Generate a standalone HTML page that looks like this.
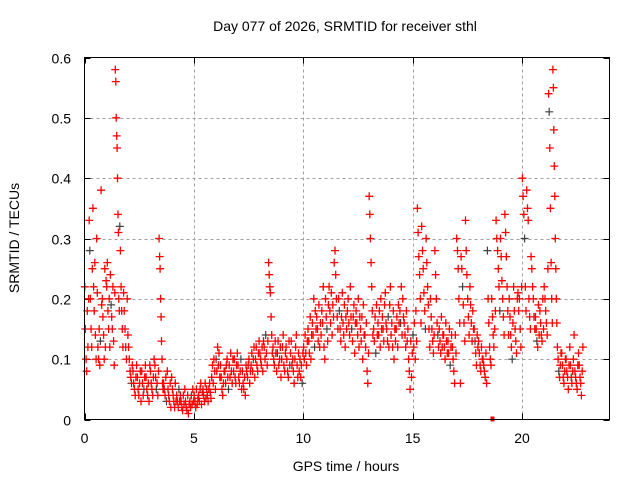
<!DOCTYPE html>
<html><head><meta charset="utf-8"><style>
body{margin:0;background:#fff}
svg{display:block;font-family:"Liberation Sans",sans-serif}
</style></head><body>
<svg id="chart" width="640" height="480">
<rect width="640" height="480" fill="#fff"/>
<text x="345" y="31" text-anchor="middle" font-size="14">Day 077 of 2026, SRMTID for receiver sthl</text>
<text x="346" y="471" text-anchor="middle" font-size="14">GPS time / hours</text>
<text x="0" y="0" transform="translate(19,238) rotate(-90)" text-anchor="middle" font-size="14">SRMTID / TECUs</text>
<g id="grid"></g><g id="ticks"></g><g id="marks"></g>
<rect x="84.5" y="57.5" width="525" height="362" fill="none" stroke="#000" stroke-width="1"/>
</svg>
<script>
const xTicks=[0,5,10,15,20];
const yTicks=[0,0.1,0.2,0.3,0.4,0.5,0.6];
const yTickLabels=["0","0.1","0.2","0.3","0.4","0.5","0.6"];
const binStarts=[0,0.2,0.4,0.6,0.8,1.0,1.2,1.4,1.6,1.8,2.0,2.2,2.4,2.6,2.8,3.0,3.2,3.4,3.6,3.8,4.0,4.2,4.4,4.6,4.8,5.0,5.2,5.4,5.6,5.8,6.0,6.2,6.4,6.6,6.8,7.0,7.2,7.4,7.6,7.8,8.0,8.2,8.4,8.6,8.8,9.0,9.2,9.4,9.6,9.8,10.0,10.2,10.4,10.6,10.8,11.0,11.2,11.4,11.6,11.8,12.0,12.2,12.4,12.6,12.8,13.0,13.2,13.4,13.6,13.8,14.0,14.2,14.4,14.6,14.8,15.0,15.2,15.4,15.6,15.8,16.0,16.2,16.4,16.6,16.8,17.0,17.2,17.4,17.6,17.8,18.0,18.2,18.4,18.6,18.8,19.0,19.2,19.4,19.6,19.8,20.0,20.2,20.4,20.6,20.8,21.0,21.2,21.4,21.6,21.8,22.0,22.2,22.4,22.6];
const binValues=[
[0.22,0.15,0.10,0.08,0.18,0.12,0.20],[0.33,0.28,0.20,0.15,0.12,0.25,0.35],[0.22,0.18,0.26,0.14,0.10,0.30,0.21],[0.12,0.10,0.15,0.09,0.13,0.38,0.19],
[0.20,0.17,0.14,0.10,0.25,0.12,0.23],[0.22,0.26,0.18,0.15,0.20,0.12,0.24],[0.19,0.17,0.15,0.22,0.13,0.09,0.21],[0.58,0.56,0.50,0.47,0.45,0.40,0.34,0.31,0.20,0.18],
[0.32,0.28,0.22,0.18,0.15,0.12,0.21],[0.18,0.15,0.12,0.10,0.20,0.14],[0.12,0.10,0.08,0.07,0.06,0.09],[0.08,0.06,0.05,0.04,0.07,0.09],
[0.07,0.05,0.04,0.06,0.08,0.03],[0.08,0.06,0.04,0.05,0.07,0.09],[0.07,0.05,0.04,0.06,0.03,0.09],[0.08,0.06,0.05,0.04,0.07,0.10],
[0.09,0.07,0.05,0.06,0.04,0.08],[0.30,0.27,0.25,0.20,0.17,0.13,0.10,0.06,0.05],[0.06,0.05,0.04,0.07,0.03,0.08],[0.05,0.04,0.03,0.06,0.02,0.07],
[0.05,0.04,0.03,0.02,0.06,0.03],[0.04,0.03,0.02,0.05,0.03,0.04],[0.03,0.02,0.015,0.04,0.025,0.05],[0.03,0.02,0.015,0.04,0.01,0.025],
[0.03,0.02,0.04,0.025,0.05,0.03],[0.04,0.03,0.02,0.05,0.025,0.035],[0.04,0.03,0.05,0.06,0.025,0.045],[0.05,0.04,0.03,0.06,0.035,0.05],
[0.04,0.03,0.05,0.06,0.045,0.035],[0.07,0.09,0.06,0.10,0.08,0.05],[0.10,0.08,0.12,0.09,0.11,0.07],[0.09,0.07,0.05,0.04,0.06,0.08],
[0.08,0.06,0.09,0.10,0.07,0.05],[0.09,0.07,0.11,0.08,0.06,0.10],[0.08,0.10,0.07,0.06,0.09,0.11],[0.09,0.07,0.06,0.08,0.10,0.05],
[0.08,0.06,0.05,0.07,0.04,0.09],[0.08,0.07,0.09,0.10,0.06,0.08],[0.09,0.11,0.08,0.10,0.12,0.07],[0.10,0.12,0.09,0.08,0.11,0.13],
[0.11,0.10,0.09,0.12,0.08,0.13],[0.12,0.10,0.14,0.11,0.09,0.13],[0.26,0.24,0.22,0.21,0.17,0.14,0.11],[0.12,0.10,0.09,0.13,0.11,0.08],
[0.11,0.13,0.09,0.10,0.12,0.07],[0.10,0.12,0.14,0.09,0.08,0.11],[0.12,0.10,0.08,0.07,0.13,0.09],[0.11,0.13,0.09,0.10,0.08,0.06],
[0.10,0.12,0.14,0.09,0.07,0.11],[0.08,0.10,0.07,0.09,0.06,0.11],[0.12,0.10,0.14,0.11,0.09,0.13],[0.15,0.13,0.11,0.17,0.10,0.14],
[0.16,0.14,0.20,0.12,0.18,0.15],[0.17,0.15,0.13,0.19,0.12,0.16],[0.14,0.18,0.16,0.22,0.12,0.10],[0.20,0.17,0.15,0.13,0.19,0.22],
[0.18,0.16,0.21,0.14,0.19,0.17],[0.26,0.28,0.24,0.20,0.17,0.15],[0.20,0.18,0.15,0.13,0.17,0.21],[0.16,0.14,0.19,0.12,0.17,0.15],
[0.18,0.20,0.16,0.14,0.22,0.17],[0.15,0.13,0.17,0.19,0.11,0.16],[0.18,0.16,0.14,0.20,0.12,0.17],[0.15,0.13,0.17,0.10,0.19,0.14],
[0.14,0.12,0.16,0.08,0.06,0.11],[0.37,0.34,0.30,0.26,0.22,0.18,0.14],[0.15,0.13,0.17,0.11,0.19,0.14],[0.16,0.14,0.18,0.12,0.20,0.15],
[0.17,0.15,0.13,0.19,0.21,0.16],[0.15,0.13,0.17,0.12,0.19,0.22],[0.14,0.16,0.12,0.18,0.10,0.15],[0.13,0.15,0.17,0.12,0.19,0.16],
[0.18,0.16,0.22,0.14,0.20,0.17],[0.16,0.14,0.12,0.18,0.13,0.15],[0.10,0.08,0.05,0.13,0.07,0.11],[0.14,0.12,0.16,0.10,0.18,0.13],
[0.35,0.31,0.27,0.24,0.20,0.16],[0.32,0.28,0.25,0.21,0.18,0.15],[0.30,0.26,0.22,0.19,0.15,0.12],[0.20,0.17,0.15,0.13,0.11,0.14],
[0.28,0.24,0.20,0.16,0.14,0.12],[0.15,0.13,0.11,0.17,0.12,0.14],[0.14,0.12,0.10,0.16,0.13,0.11],[0.13,0.11,0.15,0.09,0.12,0.14],
[0.12,0.10,0.08,0.06,0.14,0.11],[0.30,0.28,0.25,0.20,0.16,0.06],[0.27,0.25,0.22,0.19,0.16,0.13],[0.33,0.28,0.24,0.20,0.17,0.14],
[0.22,0.19,0.16,0.13,0.18,0.15],[0.15,0.13,0.11,0.09,0.14,0.12],[0.13,0.11,0.09,0.08,0.12,0.10],[0.10,0.09,0.08,0.07,0.11,0.06],
[0.28,0.20,0.16,0.12,0.10,0.09],[0.20,0.17,0.14,0.12,0.15,0.18],[0.33,0.30,0.28,0.25,0.22,0.18],[0.30,0.27,0.23,0.20,0.17,0.14],
[0.34,0.31,0.27,0.22,0.18,0.14],[0.20,0.17,0.14,0.12,0.10,0.16],[0.22,0.18,0.15,0.13,0.11,0.20],[0.21,0.18,0.20,0.15,0.12,0.22],
[0.40,0.37,0.34,0.30,0.22,0.18],[0.38,0.35,0.33,0.20,0.17,0.15],[0.27,0.25,0.22,0.20,0.17,0.15],[0.17,0.15,0.13,0.12,0.19,0.14],
[0.18,0.16,0.14,0.13,0.20,0.15],[0.22,0.20,0.18,0.16,0.14,0.25],[0.54,0.51,0.45,0.35,0.26,0.20,0.16],[0.58,0.55,0.48,0.42,0.37,0.30,0.25,0.20,0.16],
[0.12,0.10,0.08,0.07,0.09,0.11],[0.11,0.09,0.07,0.06,0.08,0.10],[0.10,0.08,0.07,0.05,0.09,0.12],[0.09,0.07,0.06,0.08,0.10,0.14],
[0.08,0.07,0.06,0.05,0.09,0.11],[0.09,0.07,0.06,0.04,0.08,0.12]
];
const binWidth=0.2;
const flagTimes=[18.65];
const flagValues=[0];

const NS="http://www.w3.org/2000/svg";
const X0=84.5,X1=609.5,Y0=419.5,Y1=57.5,XMAX=24,YMAX=0.6;
function xs(t){return X0+(X1-X0)*t/XMAX;}
function ys(v){return Y0-(Y0-Y1)*v/YMAX;}
function mk(tag,attrs,parent){const e=document.createElementNS(NS,tag);for(const k in attrs)e.setAttribute(k,attrs[k]);parent.appendChild(e);return e;}
const grid=document.getElementById('grid'),ticks=document.getElementById('ticks'),marks=document.getElementById('marks');
xTicks.forEach(t=>{
  const x=Math.round(xs(t))+0.5;
  if(t>0){const g=mk('line',{x1:x,x2:x,y1:Y1,y2:Y0,stroke:'#a0a0a0','stroke-dasharray':'3,3'},grid);
  
  }
  const a=mk('path',{d:`M${x},${Y0}v-6M${x},${Y1}v6`,stroke:'#000'},ticks);
  
  
  const l=mk('text',{x:xs(t),y:443,'text-anchor':'middle','font-size':14},ticks);l.textContent=t;
  
  
});
yTicks.forEach((v,i)=>{
  const y=Math.round(ys(v))+0.5;
  if(i>0&&i<yTicks.length-1){const g=mk('line',{x1:X0,x2:X1,y1:y,y2:y,stroke:'#a0a0a0','stroke-dasharray':'3,3'},grid);
  
  }
  const a=mk('path',{d:`M${X0},${y}h6M${X1},${y}h-6`,stroke:'#000'},ticks);
  
  
  const l=mk('text',{x:71,y:y+5,'text-anchor':'end','font-size':14},ticks);l.textContent=yTickLabels[i];
  
  
});
let dRed='',dGray='',k=0;
binStarts.forEach((b,i)=>{
  const vals=binValues[i],n=vals.length;
  vals.forEach((v,j)=>{
    const t=b+binWidth*(j+0.5)/n;
    const x=xs(t),y=ys(v);
    const s=`M${(x-4).toFixed(1)},${y.toFixed(1)}h8M${x.toFixed(1)},${(y-4).toFixed(1)}v8`;
    if(k%17===8)dGray+=s;else dRed+=s;k++;
  });
});
const pg=mk('path',{d:dGray,stroke:'#404040','stroke-width':1.2,fill:'none'},marks);


const pr=mk('path',{d:dRed,stroke:'#ff0000','stroke-width':1.3,fill:'none'},marks);


flagTimes.forEach((t,i)=>{
  const r=mk('rect',{x:xs(t)-2,y:ys(flagValues[i])-3,width:4,height:5,fill:'#ff0000'},marks);
  
  
});
</script>
</body></html>
